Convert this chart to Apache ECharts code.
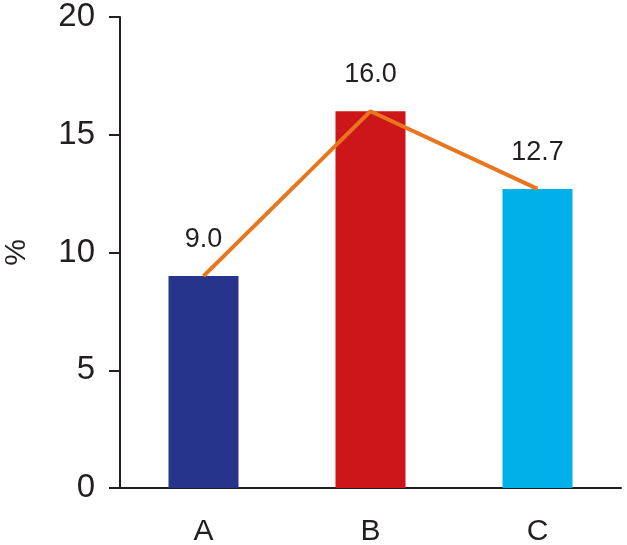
<!DOCTYPE html>
<html>
<head>
<meta charset="utf-8">
<script src="https://cdn.jsdelivr.net/npm/echarts@6/dist/echarts.min.js"></script>
<style>
html,body{margin:0;padding:0;background:#fff;}
#chart{width:627px;height:545px;}
</style>
</head>
<body>
<div id="chart"></div>
<script>
var categories = ['A', 'B', 'C'];
var barValues = [9.0, 16.0, 12.7];
var lineValues = [9.0, 16.0, 12.7];
var barColors = ['#27348B', '#CC1619', '#00B0E8'];
var yTicks = [0, 5, 10, 15, 20];

var chart = echarts.init(document.getElementById('chart'));
var font = '"Liberation Sans", Arial, sans-serif';
chart.setOption({
  animation: false,
  backgroundColor: '#ffffff',
  grid: { left: 120, right: 6, top: 17, bottom: 57, outerBoundsMode: 'none', containLabel: false },
  xAxis: {
    type: 'category',
    data: categories,
    axisLine: { lineStyle: { color: '#231f20', width: 2 } },
    axisTick: { alignWithLabel: true, length: 11, lineStyle: { color: '#231f20', width: 2 } },
    axisLabel: { color: '#231f20', fontSize: 30, fontFamily: font, margin: 29 }
  },
  yAxis: {
    type: 'value',
    min: yTicks[0],
    max: yTicks[yTicks.length - 1],
    interval: 5,
    name: '%',
    nameLocation: 'middle',
    nameGap: 88,
    nameTextStyle: { color: '#231f20', fontSize: 30, fontFamily: font },
    axisLine: { show: true, lineStyle: { color: '#231f20', width: 2 } },
    axisTick: { show: true, length: 11, lineStyle: { color: '#231f20', width: 2 } },
    axisLabel: { color: '#231f20', fontSize: 33, fontFamily: font, margin: 25 },
    splitLine: { show: false }
  },
  series: [
    {
      type: 'bar',
      barWidth: 70,
      data: barValues.map(function (v, i) {
        return { value: v, itemStyle: { color: barColors[i] } };
      }),
      label: {
        show: true,
        position: 'top',
        distance: 23,
        color: '#231f20',
        fontSize: 27,
        fontFamily: font,
        formatter: function (p) { return p.value.toFixed(1); }
      }
    },
    {
      type: 'line',
      data: lineValues,
      symbol: 'none',
      lineStyle: { color: '#E8761E', width: 4 },
      z: 5
    }
  ]
});
</script>
</body>
</html>
